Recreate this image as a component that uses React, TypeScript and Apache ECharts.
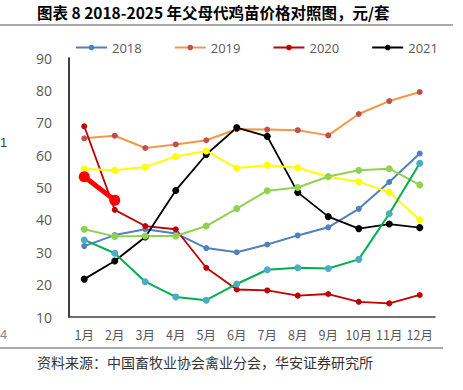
import React, { useEffect, useRef } from "react";
import * as echarts from "echarts";

const months = ["1月", "2月", "3月", "4月", "5月", "6月", "7月", "8月", "9月", "10月", "11月", "12月"];
const legendNames = ["2018", "2019", "2020", "2021"];
const y2018 = [31.9, 35.3, 37.1, 35.8, 31.3, 30.0, 32.4, 35.2, 37.7, 43.4, 51.7, 60.5];
const y2019 = [65.2, 66.0, 62.2, 63.3, 64.6, 68.0, 67.9, 67.7, 66.1, 72.7, 76.7, 79.5];
const y2020 = [68.9, 43.1, 38.1, 37.1, 25.2, 18.5, 18.2, 16.6, 17.1, 14.7, 14.2, 16.8];
const y2021 = [21.7, 27.3, 34.7, 49.1, 60.2, 68.5, 65.8, 48.5, 41.0, 37.3, 38.7, 37.6];
const y2022 = [55.7, 55.3, 56.3, 59.6, 61.3, 56.0, 56.9, 56.1, 53.3, 51.8, 48.5, 40.0];
const y2023 = [37.1, 34.9, 35.0, 35.0, 38.1, 43.5, 49.0, 50.0, 53.4, 55.3, 55.8, 50.8];
const y2024 = [33.8, 29.7, 20.9, 16.2, 15.2, 20.2, 24.6, 25.2, 25.0, 27.8, 41.9, 57.5];
const y2025 = [53.3, 46.1];

const titleText = "图表 8 2018-2025 年父母代鸡苗价格对照图，元/套";
const sourceText = "资料来源：中国畜牧业协会禽业分会，华安证券研究所";

function mk(name: string, data: number[], line: string, marker: string, width = 2, size = 6) {
  return {
    name,
    type: "line",
    data,
    symbol: "circle",
    symbolSize: size,
    lineStyle: { color: line, width },
    itemStyle: { color: marker, borderWidth: 0 },
    color: line,
  };
}

export default function App() {
  const ref = useRef<HTMLDivElement>(null);
  useEffect(() => {
    const chart = echarts.init(ref.current!, null, { renderer: "svg" });
    chart.setOption({
      animation: false,
      backgroundColor: "#fff",
      textStyle: { fontFamily: "Noto Sans CJK SC" },
      grid: { left: 69, right: 28, top: 58, bottom: 73 },
      legend: {
        data: legendNames,
        top: 36,
        left: 70,
        itemWidth: 31,
        itemHeight: 7,
        itemGap: 32,
        textStyle: { color: "#595959", fontSize: 13, fontFamily: "Open Sans" },
      },
      xAxis: {
        type: "category",
        data: months,
        boundaryGap: true,
        axisLine: { lineStyle: { color: "#404040", width: 1.5 } },
        axisTick: { show: false },
        axisLabel: { interval: 0, hideOverlap: false, color: "#595959", fontSize: 12.5, margin: 11, fontFamily: "Noto Sans CJK SC" },
      },
      yAxis: {
        type: "value",
        min: 10,
        max: 90,
        interval: 10,
        splitLine: { show: false },
        axisLine: { show: true, lineStyle: { color: "#000", width: 1.5 } },
        axisTick: { show: false },
        axisLabel: { color: "#595959", fontSize: 14, margin: 17, fontFamily: "Open Sans" },
      },
      series: [
        mk("2018", y2018, "#4F81BD", "#4F81BD"),
        mk("2019", y2019, "#F79646", "#C0504D"),
        mk("2020", y2020, "#C00000", "#C00000", 1.8),
        mk("2021", y2021, "#000000", "#000000", 1.8, 7),
        mk("2022", y2022, "#FFFF00", "#FFFF00", 2, 7),
        mk("2023", y2023, "#92D050", "#92D050", 2, 7),
        mk("2024", y2024, "#00B050", "#4BACC6", 2, 7),
        mk("2025", y2025, "#FF0000", "#FF0000", 5, 11),
      ],
      graphic: [
        {
          type: "text",
          left: 37,
          top: 4,
          style: { text: titleText, fontSize: 15.5, fontWeight: "bold", fill: "#000", fontFamily: "Noto Sans CJK SC" },
        },
        { type: "line", shape: { x1: 0, y1: 25, x2: 453, y2: 25 }, style: { stroke: "#8c8c8c", lineWidth: 1.5 } },
        { type: "line", shape: { x1: 0, y1: 348, x2: 443, y2: 348 }, style: { stroke: "#8c8c8c", lineWidth: 1.5 } },
        {
          type: "text",
          left: 37,
          top: 355,
          style: { text: sourceText, fontSize: 14, fill: "#333", fontFamily: "Noto Sans CJK SC" },
        },
        { type: "text", left: 0, top: 136, style: { text: "1", fontSize: 13, fill: "#404040" } },
        { type: "text", left: 0, top: 328, style: { text: "4", fontSize: 13, fill: "#888" } },
      ],
    });
    return () => chart.dispose();
  }, []);
  return <div ref={ref} style={{ width: 463, height: 390, position: "absolute", left: 0, top: 0 }} />;
}
